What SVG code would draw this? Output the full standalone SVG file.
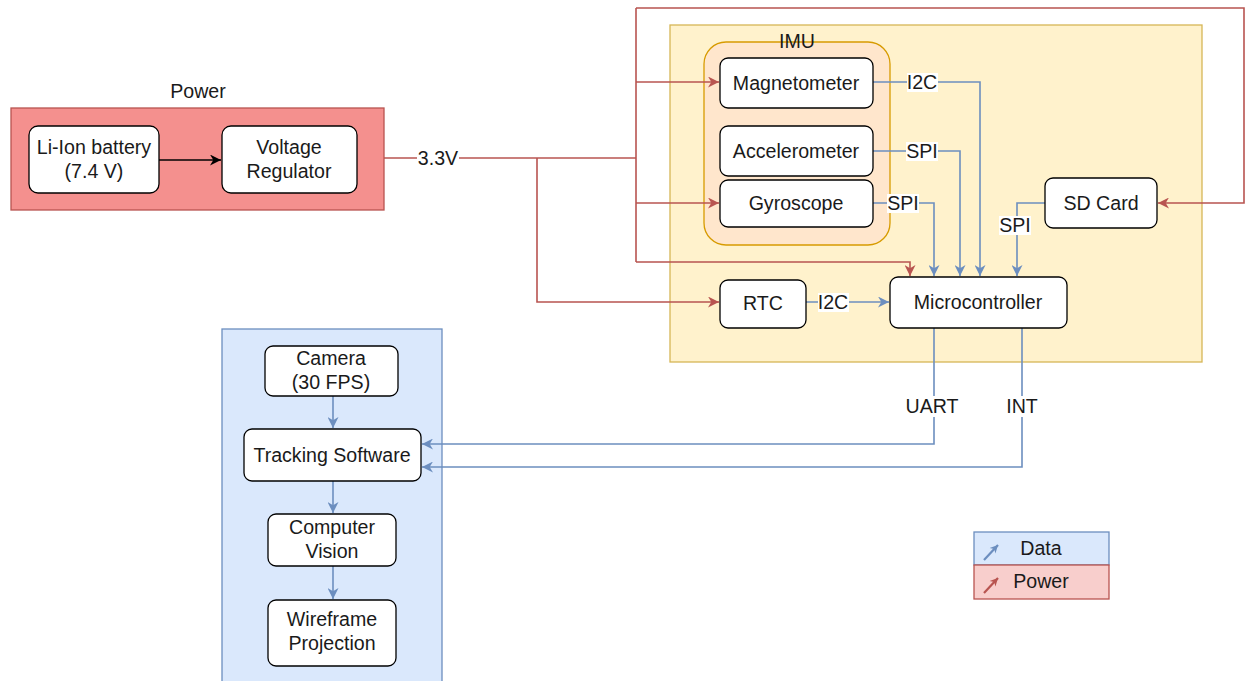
<svg xmlns="http://www.w3.org/2000/svg" width="1248" height="681" viewBox="0 0 1248 681">
<style>
text{font-family:"Liberation Sans",Arial,sans-serif;font-size:19.6px;fill:#1a1a1a;text-anchor:middle}
.node{fill:#ffffff;stroke:#000000;stroke-width:1.3}
.red{fill:none;stroke:#b85450;stroke-width:1.6}
.blue{fill:none;stroke:#6c8ebf;stroke-width:1.6}
.blk{fill:none;stroke:#000000;stroke-width:1.6}
.lbg{fill:#ffffff}
</style>
<defs>
<marker id="ar" viewBox="0 0 10 10" refX="10" refY="5" markerWidth="13" markerHeight="11" markerUnits="userSpaceOnUse" orient="auto"><path d="M0,0 L10,5 L0,10 L3,5 z" fill="#b85450"/></marker>
<marker id="ab" viewBox="0 0 10 10" refX="10" refY="5" markerWidth="13" markerHeight="11" markerUnits="userSpaceOnUse" orient="auto"><path d="M0,0 L10,5 L0,10 L3,5 z" fill="#6c8ebf"/></marker>
<marker id="ak" viewBox="0 0 10 10" refX="10" refY="5" markerWidth="13" markerHeight="11" markerUnits="userSpaceOnUse" orient="auto"><path d="M0,0 L10,5 L0,10 L3,5 z" fill="#000000"/></marker>
<marker id="sr" viewBox="0 0 10 10" refX="10" refY="5" markerWidth="9" markerHeight="8" markerUnits="userSpaceOnUse" orient="auto"><path d="M0,0 L10,5 L0,10 L3,5 z" fill="#b85450"/></marker>
<marker id="sb" viewBox="0 0 10 10" refX="10" refY="5" markerWidth="9" markerHeight="8" markerUnits="userSpaceOnUse" orient="auto"><path d="M0,0 L10,5 L0,10 L3,5 z" fill="#6c8ebf"/></marker>
</defs>

<!-- containers -->
<g id="power-group">
<rect x="11" y="108" width="373" height="102" fill="#f4908e" stroke="#b85450" stroke-width="1.3"/>
<text x="198" y="98">Power</text>
</g>
<g id="mcu-group">
<rect x="670" y="25" width="532" height="337" fill="#fff2cc" stroke="#d6b656" stroke-width="1.3"/>
</g>
<g id="imu-group">
<rect x="704" y="42" width="186" height="203" rx="22" fill="#ffe6cc" stroke="#d79b00" stroke-width="1.3"/>
<text x="797" y="48">IMU</text>
</g>
<g id="host-group">
<rect x="222" y="329" width="220" height="360" fill="#dae8fc" stroke="#6c8ebf" stroke-width="1.3"/>
</g>

<!-- connectors -->
<g id="connectors">
<path class="blk" d="M159,160 H221" marker-end="url(#ak)"/>
<path class="red" d="M384,158 H636"/>
<path class="red" d="M537,158 V302 H719" marker-end="url(#ar)"/>
<path class="red" d="M636,8 V262"/>
<path class="red" d="M636,82 H719" marker-end="url(#ar)"/>
<path class="red" d="M636,203 H719" marker-end="url(#ar)"/>
<path class="red" d="M636,262 H910 V276" marker-end="url(#ar)"/>
<path class="red" d="M636,8 H1244 V203 H1158" marker-end="url(#ar)"/>
<path class="blue" d="M873,82 H980 V276" marker-end="url(#ab)"/>
<path class="blue" d="M873,151 H960 V276" marker-end="url(#ab)"/>
<path class="blue" d="M873,203 H934 V276" marker-end="url(#ab)"/>
<path class="blue" d="M1045,203 H1017 V276" marker-end="url(#ab)"/>
<path class="blue" d="M806,302 H889" marker-end="url(#ab)"/>
<path class="blue" d="M934,328 V444 H422" marker-end="url(#ab)"/>
<path class="blue" d="M1022,328 V467 H422" marker-end="url(#ab)"/>
<path class="blue" d="M333,396 V428" marker-end="url(#ab)"/>
<path class="blue" d="M333,481 V513" marker-end="url(#ab)"/>
<path class="blue" d="M333,566 V599" marker-end="url(#ab)"/>
<!-- labels -->
<rect class="lbg" x="417" y="149" width="42" height="19"/><text x="438" y="165">3.3V</text>
<rect class="lbg" x="907" y="73" width="31" height="19"/><text x="922" y="89">I2C</text>
<rect class="lbg" x="906" y="142" width="32" height="19"/><text x="922" y="158">SPI</text>
<rect class="lbg" x="887" y="194" width="32" height="19"/><text x="903" y="210">SPI</text>
<rect class="lbg" x="999" y="216" width="32" height="19"/><text x="1015" y="232">SPI</text>
<rect class="lbg" x="818" y="293" width="31" height="19"/><text x="833" y="309">I2C</text>
<rect class="lbg" x="905" y="396" width="54" height="21"/><text x="932" y="413">UART</text>
<rect class="lbg" x="1005" y="396" width="34" height="21"/><text x="1022" y="413">INT</text>
</g>

<!-- nodes -->
<g id="battery"><rect class="node" x="29" y="126" width="130" height="67" rx="9"/><text x="94" y="154">Li-Ion battery</text><text x="94" y="178">(7.4 V)</text></g>
<g id="regulator"><rect class="node" x="222" y="126" width="135" height="67" rx="9"/><text x="289" y="154">Voltage</text><text x="289" y="178">Regulator</text></g>
<g id="magnetometer"><rect class="node" x="720" y="58" width="153" height="50" rx="8"/><text x="796" y="90">Magnetometer</text></g>
<g id="accelerometer"><rect class="node" x="720" y="126" width="153" height="50" rx="8"/><text x="796" y="158">Accelerometer</text></g>
<g id="gyroscope"><rect class="node" x="720" y="180" width="153" height="47" rx="8"/><text x="796" y="210">Gyroscope</text></g>
<g id="sdcard"><rect class="node" x="1045" y="178" width="112" height="50" rx="8"/><text x="1101" y="210">SD Card</text></g>
<g id="rtc"><rect class="node" x="720" y="280" width="86" height="48" rx="8"/><text x="763" y="310">RTC</text></g>
<g id="microcontroller"><rect class="node" x="890" y="277" width="177" height="51" rx="8"/><text x="978" y="309">Microcontroller</text></g>
<g id="camera"><rect class="node" x="265" y="346" width="133" height="50" rx="8"/><text x="331" y="365">Camera</text><text x="331" y="389">(30 FPS)</text></g>
<g id="tracking"><rect class="node" x="244" y="429" width="177" height="52" rx="8"/><text x="332" y="462">Tracking Software</text></g>
<g id="vision"><rect class="node" x="268" y="514" width="128" height="52" rx="8"/><text x="332" y="534">Computer</text><text x="332" y="558">Vision</text></g>
<g id="wireframe"><rect class="node" x="268" y="600" width="128" height="66" rx="8"/><text x="332" y="626">Wireframe</text><text x="332" y="650">Projection</text></g>

<!-- legend -->
<g id="legend">
<rect x="974" y="532" width="135" height="33" fill="#dae8fc" stroke="#6c8ebf" stroke-width="1.3"/>
<rect x="974" y="565" width="135" height="34" fill="#f8cecc" stroke="#b85450" stroke-width="1.3"/>
<path d="M984,560 L998,545" stroke="#6c8ebf" stroke-width="2.2" marker-end="url(#sb)"/>
<path d="M984,593 L998,578" stroke="#b85450" stroke-width="2.2" marker-end="url(#sr)"/>
<text x="1041" y="555">Data</text>
<text x="1041" y="588">Power</text>
</g>
</svg>
